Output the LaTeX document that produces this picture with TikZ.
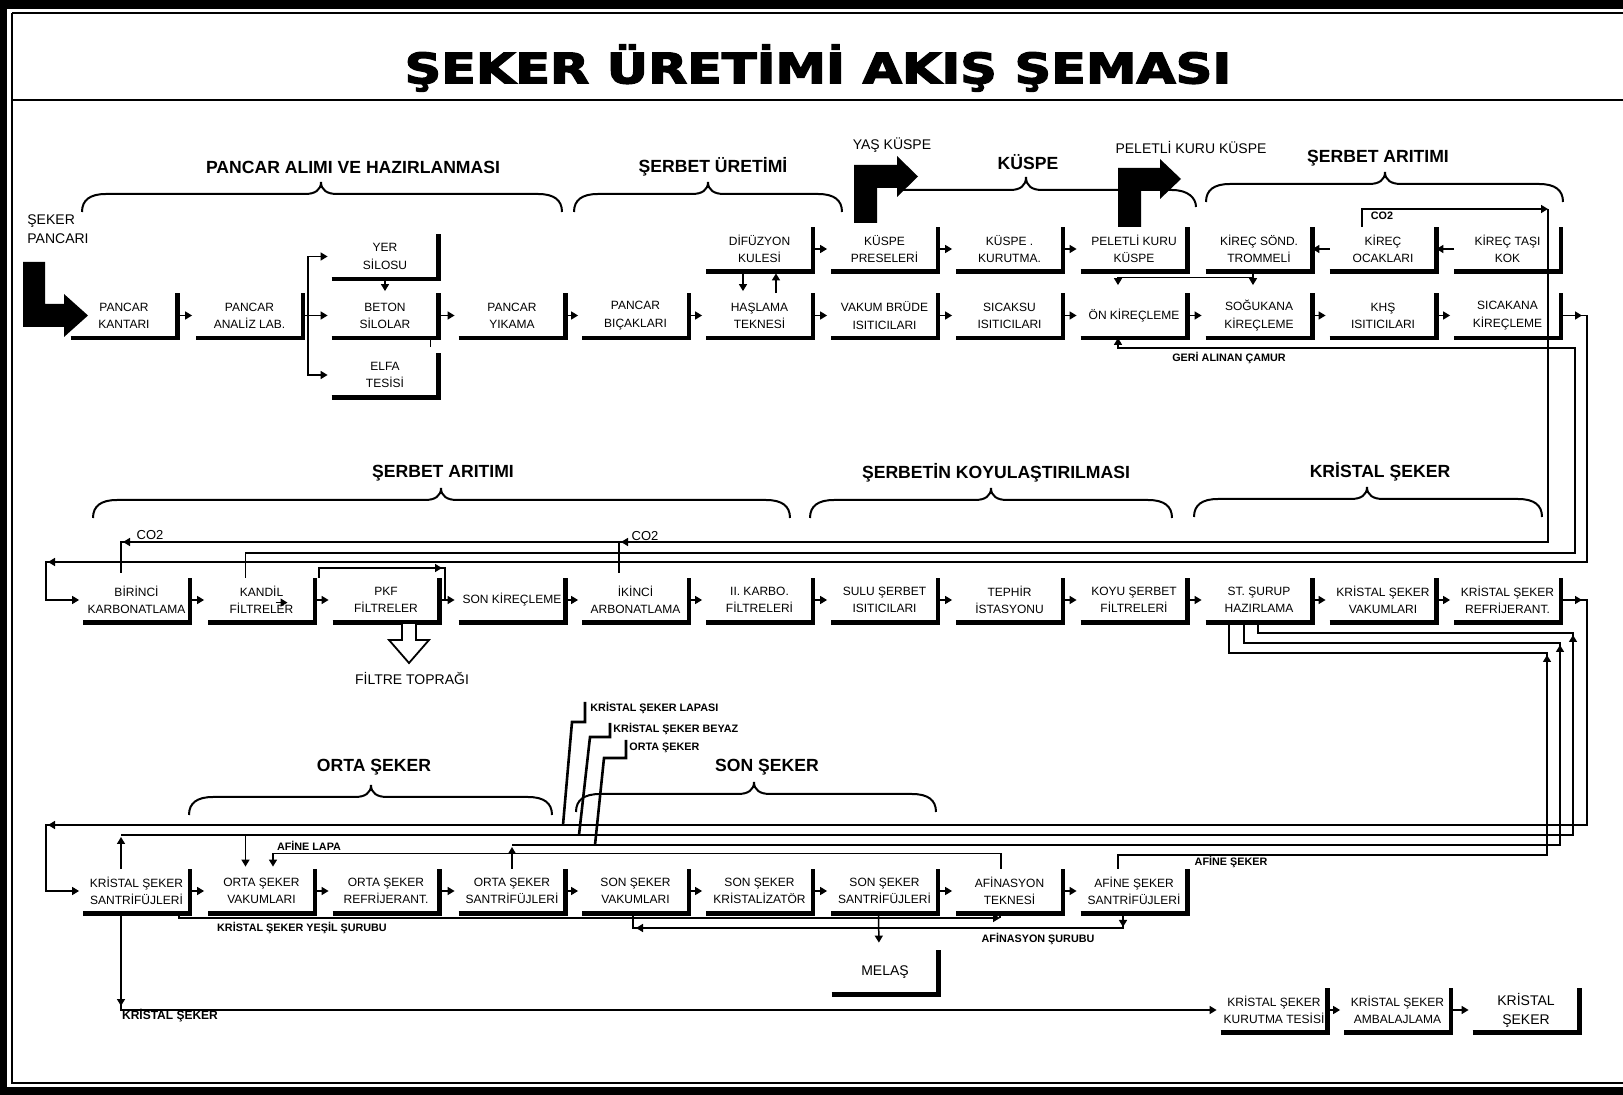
\documentclass[tikz,border=0pt]{standalone}
\usepackage{fontspec}
\setmainfont{Liberation Sans}
\newfontfamily\titlefont{DejaVu Sans}[BoldFeatures={FakeBold=3}]
\usetikzlibrary{arrows.meta}

\tikzset{
  flow/.style={line width=0.75pt},
  flowarr/.style={flow, -{Triangle[length=3.5pt,width=4pt]}, shorten >=2pt},
  headarr/.style={flow, -{Triangle[length=3.5pt,width=4pt]}},
  barline/.style={line width=2.2pt},
  bracestyle/.style={line width=1pt},
  leader/.style={line width=1.3pt},
  procbox/.style={minimum width=53pt, minimum height=22pt, inner sep=0pt, align=center,
    font=\fontsize{6}{8.6}\selectfont},
  hdr/.style={font=\fontsize{8.8}{10}\selectfont\bfseries, inner sep=0pt},
  tag/.style={font=\fontsize{5.4}{6.5}\selectfont\bfseries, inner sep=0pt},
  note/.style={font=\fontsize{7}{9.5}\selectfont, inner sep=0pt, align=left},
}

% curly brace: left x, right x, y of the ends, x of the tip
\newcommand\brc[4]{%
  \draw[bracestyle] (#1,#3) .. controls (#1,{#3-12}) and ({#1+8},{#3-18}) .. ({#1+24},{#3-18})
    -- ({#4-16},{#3-18}) .. controls ({#4-6},{#3-18}) and (#4,{#3-22}) .. (#4,{#3-30})
    .. controls (#4,{#3-22}) and ({#4+6},{#3-18}) .. ({#4+16},{#3-18})
    -- ({#2-24},{#3-18}) .. controls ({#2-8},{#3-18}) and (#2,{#3-12}) .. (#2,#3);}

\begin{document}
\begin{tikzpicture}[x=0.5pt,y=-0.5pt]
\useasboundingbox (0,0) rectangle (1623,1095);

%Frame
\fill (0,0) rectangle (1623,9);
\fill (0,0) rectangle (7,1095);
\fill (0,1087) rectangle (1623,1095);
\draw[line width=0.8pt] (12,13) -- (1623,13);
\draw[line width=0.8pt] (12,13) -- (12,1083) -- (1623,1083);
\draw[line width=1.2pt] (12,100) -- (1623,100);

% Title
\node[font=\titlefont\bfseries\fontsize{21}{24}\selectfont] (title) at (818,68) {\scalebox{1.21}[1]{ŞEKER ÜRETİMİ AKIŞ ŞEMASI}};

% Section headers
\node[hdr] (h1) at (353,167) {PANCAR ALIMI VE HAZIRLANMASI};
\node[hdr] (h2) at (713,167) {ŞERBET ÜRETİMİ};
\node[hdr] (h3) at (1028,162) {KÜSPE};
\node[hdr] (h4) at (1378,158) {ŞERBET ARITIMI};
\node[hdr] (h5) at (443,473) {ŞERBET ARITIMI};
\node[hdr] (h6) at (996,473) {ŞERBETİN KOYULAŞTIRILMASI};
\node[hdr] (h7) at (1380,472) {KRİSTAL ŞEKER};
\node[hdr] (h8) at (374,767) {ORTA ŞEKER};
\node[hdr] (h9) at (767,767) {SON ŞEKER};

% Braces
\brc{82}{562}{212}{321}
\brc{574}{842}{212}{708}
\draw[bracestyle] (900,190) -- (1010,190) .. controls (1020,190) and (1026,186) .. (1026,177)
  .. controls (1026,186) and (1032,190) .. (1042,190) -- (1172,190)
  .. controls (1188,190) and (1196,198) .. (1196,207);
\brc{1206}{1563}{202}{1385}
\brc{93}{790}{518}{441}
\brc{810}{1172}{518}{991}
\brc{1194}{1542}{517}{1367}
\brc{189}{552}{815}{371}
\brc{576}{936}{812}{754}

% Text Node
\node[note, anchor=north west] (pancari) at (27,214) {ŞEKER\\PANCARI};
\node[note] (yaskuspe) at (892,145) {YAŞ KÜSPE};
\node[note] (peletkuspe) at (1191,148) {PELETLİ KURU KÜSPE};

% Upper row
\node[procbox] (difuzyon) at (759.5,249) {DİFÜZYON\\KULESİ};
\node[procbox] (kuspepres) at (884.5,249) {KÜSPE\\PRESELERİ};
\node[procbox] (kurutma) at (1009.5,249) {KÜSPE .\\KURUTMA.};
\node[procbox] (peletli) at (1134,249) {PELETLİ KURU\\KÜSPE};
\node[procbox] (trommeli) at (1259,249) {KİREÇ SÖND.\\TROMMELİ};
\node[procbox] (ocak) at (1383,249) {KİREÇ\\OCAKLARI};
\node[procbox] (kirectasi) at (1507.5,249) {KİREÇ TAŞI\\KOK};
\node[procbox] (yer) at (385,256.5) {YER\\SİLOSU};
\node[procbox] (kantar) at (124,315.5) {PANCAR\\KANTARI};
\node[procbox] (analiz) at (249.5,315.5) {PANCAR\\ANALİZ LAB.};
\node[procbox] (beton) at (385,315.5) {BETON\\SİLOLAR};
\node[procbox] (yikama) at (512,315.5) {PANCAR\\YIKAMA};
\node[procbox] (bicak) at (635.5,315.5) {PANCAR\\BIÇAKLARI};
\node[procbox] (haslama) at (759.5,315.5) {HAŞLAMA\\TEKNESİ};
\node[procbox] (vakumbrude) at (884.5,315.5) {VAKUM BRÜDE\\ISITICILARI};
\node[procbox] (sicaksu) at (1009.5,315.5) {SICAKSU\\ISITICILARI};
\node[procbox] (onkirec) at (1134,315.5) {ÖN KİREÇLEME};
\node[procbox] (sogukana) at (1259,315.5) {SOĞUKANA\\KİREÇLEME};
\node[procbox] (khs) at (1383,315.5) {KHŞ\\ISITICILARI};
\node[procbox] (sicakana) at (1507.5,315.5) {SICAKANA\\KİREÇLEME};
\node[procbox] (elfa) at (385,375) {ELFA\\TESİSİ};

% Middle row
\node[procbox] (birinci) at (136.5,600) {BİRİNCİ\\KARBONATLAMA};
\node[procbox] (kandil) at (261.5,600) {KANDİL\\FİLTRELER};
\node[procbox] (pkf) at (386,600) {PKF\\FİLTRELER};
\node[procbox] (sonkirec) at (512,600) {SON KİREÇLEME};
\node[procbox] (ikinci) at (635.5,600) {İKİNCİ\\ARBONATLAMA};
\node[procbox] (karbofilt) at (759.5,600) {II. KARBO.\\FİLTRELERİ};
\node[procbox] (sulu) at (884.5,600) {SULU ŞERBET\\ISITICILARI};
\node[procbox] (tephir) at (1009.5,600) {TEPHİR\\İSTASYONU};
\node[procbox] (koyu) at (1134,600) {KOYU ŞERBET\\FİLTRELERİ};
\node[procbox] (stsurup) at (1259,600) {ST. ŞURUP\\HAZIRLAMA};
\node[procbox] (ksvakum) at (1383,600) {KRİSTAL ŞEKER\\VAKUMLARI};
\node[procbox] (ksrefrij) at (1507.5,600) {KRİSTAL ŞEKER\\REFRİJERANT.};

% Lower row
\node[procbox] (ksant) at (136.5,891) {KRİSTAL ŞEKER\\SANTRİFÜJLERİ};
\node[procbox] (ortavak) at (261.5,891) {ORTA ŞEKER\\VAKUMLARI};
\node[procbox] (ortaref) at (386,891) {ORTA ŞEKER\\REFRİJERANT.};
\node[procbox] (ortasant) at (512,891) {ORTA ŞEKER\\SANTRİFÜJLERİ};
\node[procbox] (sonvak) at (635.5,891) {SON ŞEKER\\VAKUMLARI};
\node[procbox] (sonkris) at (759.5,891) {SON ŞEKER\\KRİSTALİZATÖR};
\node[procbox] (sonsant) at (884.5,891) {SON ŞEKER\\SANTRİFÜJLERİ};
\node[procbox] (afinasyon) at (1009.5,891) {AFİNASYON\\TEKNESİ};
\node[procbox] (afinesant) at (1134,891) {AFİNE ŞEKER\\SANTRİFÜJLERİ};
\node[procbox, font=\fontsize{7}{9}\selectfont] (melas) at (885,972) {MELAŞ};
\node[procbox] (kskurutma) at (1274,1010) {KRİSTAL ŞEKER\\KURUTMA TESİSİ};
\node[procbox] (ambalaj) at (1397.5,1010) {KRİSTAL ŞEKER\\AMBALAJLAMA};
\node[procbox, font=\fontsize{7}{9.5}\selectfont] (kristalseker) at (1526,1010) {KRİSTAL\\ŞEKER};

% box shadows
\foreach \b in {difuzyon,kuspepres,kurutma,peletli,trommeli,ocak,kirectasi,yer,kantar,analiz,beton,yikama,bicak,haslama,vakumbrude,sicaksu,onkirec,sogukana,khs,sicakana,elfa,birinci,kandil,pkf,sonkirec,ikinci,karbofilt,sulu,tephir,koyu,stsurup,ksvakum,ksrefrij,ksant,ortavak,ortaref,ortasant,sonvak,sonkris,sonsant,afinasyon,afinesant,melas,kskurutma,ambalaj,kristalseker}
  \draw[barline] (\b.south west) -- (\b.south east) -- (\b.north east);

% Big arrows
\fill (23,262) -- (45,262) -- (45,304) -- (64,304) -- (64,294) -- (88,315.5) -- (64,337) -- (64,327) -- (23,327) -- cycle;
\fill (854,223) -- (854,165) -- (897,165) -- (897,156) -- (918,176.5) -- (897,197) -- (897,188) -- (877,188) -- (877,223) -- cycle;
\fill (1118,227) -- (1118,168) -- (1160,168) -- (1160,159) -- (1181,179) -- (1160,199) -- (1160,190) -- (1141,190) -- (1141,227) -- cycle;

% Upper row connectors
\draw[flowarr] (kantar.east) -- (analiz.west);
\draw[flow] (analiz.east) -- ++(5,0) coordinate (fork);
\draw[flowarr] (fork) |- (yer.west);
\draw[flowarr] (fork) -- (beton.west);
\draw[flowarr] (fork) |- (elfa.west);
\draw[flowarr, shorten >=1pt] (yer.south) -- (beton.north);
\draw[flow] ([xshift=-4pt]beton.south east) -- ++(0,-4.5pt);
\foreach \a/\c in {beton/yikama,yikama/bicak,bicak/haslama,haslama/vakumbrude,vakumbrude/sicaksu,sicaksu/onkirec,onkirec/sogukana,sogukana/khs,khs/sicakana,difuzyon/kuspepres,kuspepres/kurutma,kurutma/peletli}
  \draw[flowarr] (\a.east) -- (\c.west);
\draw[flowarr, shorten >=0pt] (ocak.west) -- (trommeli.east);
\draw[flowarr, shorten >=0pt] (kirectasi.west) -- (ocak.east);
\draw[flowarr, shorten >=1pt] ([xshift=-8.25pt]difuzyon.south) -- ([xshift=-8.25pt]haslama.north);
\draw[flowarr, shorten >=1pt] ([xshift=8.25pt]haslama.north) -- ([xshift=8.25pt]difuzyon.south);
\draw[flow] ([xshift=-3pt]trommeli.south) -- ++(0,-3pt) coordinate (lime);
\draw[flowarr, shorten >=4pt] (lime) -| ([xshift=-8pt]onkirec.north);
\draw[flowarr, shorten >=4pt] (lime) -- (lime |- sogukana.north);

% CO2 line
\coordinate (co2r) at (1548,209);
\coordinate (co2d) at (1548,542);
\coordinate (co2l) at (121,542);
\coordinate (co2m) at (619,542);
\draw[flowarr, shorten >=0pt] ([xshift=-10.5pt]ocak.north) |- (co2r);
\draw[flow] (co2r) -- (co2d) -- (co2l) -- ([yshift=2.5pt]co2l |- birinci.north);
\draw[flow] (co2m) -- ([yshift=2.5pt]co2m |- ikinci.north);
\draw[headarr] ([xshift=5pt]co2l) -- ([xshift=1pt]co2l);
\draw[headarr] ([xshift=5pt]co2m) -- ([xshift=1pt]co2m);
\node[tag] (co2a) at (1382,216) {CO2};
\node[font=\fontsize{6.5}{8}\selectfont, inner sep=0pt] (co2b) at (150,535) {CO2};
\node[font=\fontsize{6.5}{8}\selectfont, inner sep=0pt] (co2c) at (645,536) {CO2};

% GERİ ALINAN ÇAMUR
\coordinate (mudB) at (1575,553);
\coordinate (mudC) at (1575,348);
\draw[flowarr, shorten >=0pt] ([xshift=-8pt]kandil.north) |- (mudB) -- (mudC) -| ([xshift=-8pt]onkirec.south);
\draw[headarr] ([shift={(7pt,-12.5pt)}]kandil.north) -- ([shift={(13pt,-12.5pt)}]kandil.north);
\node[tag] (camur) at (1229,358) {GERİ ALINAN ÇAMUR};

% loop to BİRİNCİ KARBONATLAMA
\coordinate (lp1) at (1587,315.5);
\coordinate (lp2) at (1587,562);
\coordinate (lp3) at (46,562);
\draw[flowarr] (sicakana.east) -- (lp1) -- (lp2) -- (lp3) |- (birinci.west);
\draw[headarr] (sicakana.east) -- ([xshift=-2.5pt]lp1);
\draw[headarr] ([xshift=5pt]lp3) -- ([xshift=1pt]lp3);

% Middle row connectors
\foreach \a/\c in {birinci/kandil,kandil/pkf,pkf/sonkirec,sonkirec/ikinci,ikinci/karbofilt,karbofilt/sulu,sulu/tephir,tephir/koyu,koyu/stsurup,stsurup/ksvakum,ksvakum/ksrefrij}
  \draw[flowarr] (\a.east) -- (\c.west);
\coordinate (pkb) at (445,568);
\draw[flow] ([xshift=2pt]kandil.north east) |- (pkb) -- (pkb |- sonkirec.west);
\draw[headarr] ([xshift=-6pt]pkb) -- ([xshift=-1.5pt]pkb);

% Filtre topragi
\draw[fill=white, line width=0.9pt] (402,623) -- (416,623) -- (416,640) -- (429,640) -- (409,663) -- (389,640) -- (402,640) -- cycle;
\node[note] (toprak) at (412,678) {FİLTRE TOPRAĞI};

% loop to KRİSTAL ŞEKER SANTRİFÜJLERİ
\coordinate (rf1) at (1587,600);
\coordinate (rf2) at (1587,825);
\coordinate (rf3) at (46,825);
\draw[flowarr] (ksrefrij.east) -- (rf1) -- (rf2) -- (rf3) |- (ksant.west);
\draw[headarr] (ksrefrij.east) -- ([xshift=-2.5pt]rf1);
\draw[headarr] ([xshift=5pt]rf3) -- ([xshift=1pt]rf3);

% returns to ST. SURUP
\coordinate (sr1) at (1573,633);
\coordinate (sr2) at (1560,643);
\coordinate (sr3) at (1547,653);
\coordinate (kt1) at (1573,835);
\coordinate (kt2) at (121,835);
\coordinate (os1) at (1560,845);
\coordinate (af1) at (1547,855);
\draw[flow] ([xshift=-0.5pt]stsurup.south) |- (sr1) -- (kt1) -- (kt2);
\draw[flow] ([xshift=-7.5pt]stsurup.south) |- (sr2) -- (os1) -- (os1 -| ortasant.north);
\draw[flow] ([xshift=-15pt]stsurup.south) |- (sr3) -- (af1) -| ([xshift=-8pt]afinesant.north);
\draw[headarr] ([yshift=-6pt]sr1) -- ([yshift=-1pt]sr1);
\draw[headarr] ([yshift=-6pt]sr2) -- ([yshift=-1pt]sr2);
\draw[headarr] ([yshift=-6pt]sr3) -- ([yshift=-1pt]sr3);
\draw[headarr] ([xshift=-7.75pt]ksant.north) -- ([yshift=-1pt]kt2);
\draw[flowarr, shorten >=1pt] ([xshift=-8pt]ortavak.north |- kt2) -- ([xshift=-8pt]ortavak.north);
\draw[headarr] (ortasant.north) -- ([yshift=-1pt]ortasant.north |- os1);
\node[tag] (afineseker) at (1231,862) {AFİNE ŞEKER};

% AFİNE LAPA
\draw[flowarr, shorten >=1pt] ([xshift=-4.25pt]afinasyon.north) -- ++(0,-15) -| ([xshift=5.75pt]ortavak.north);
\node[tag] (afinelapa) at (309,846) {AFİNE LAPA};

% leaders
\node[tag, anchor=west] (lapasi) at (590,708) {KRİSTAL ŞEKER LAPASI};
\node[tag, anchor=west] (beyaz) at (613,729) {KRİSTAL ŞEKER BEYAZ};
\node[tag, anchor=west] (ortalbl) at (629,748) {ORTA ŞEKER};
\draw[leader] ([shift={(-2.5pt,3pt)}]lapasi.west) -- ([shift={(-2.5pt,-7pt)}]lapasi.west) -- ++(-13,0) -- (563,825);
\draw[leader] ([shift={(-1.5pt,3pt)}]beyaz.west) -- ([shift={(-1.5pt,-4pt)}]beyaz.west) -- ++(-20,0) -- (579,835);
\draw[leader] ([shift={(-1.5pt,4pt)}]ortalbl.west) -- ([shift={(-1.5pt,-5pt)}]ortalbl.west) -- ++(-22,0) -- (595,845);

% Lower row connectors
\foreach \a/\c in {ksant/ortavak,ortavak/ortaref,ortaref/ortasant,ortasant/sonvak,sonvak/sonkris,sonkris/sonsant,sonsant/afinasyon,afinasyon/afinesant,kskurutma/ambalaj,ambalaj/kristalseker}
  \draw[flowarr] (\a.east) -- (\c.west);

% yesil surup
\coordinate (ys) at ([xshift=-4.75pt]afinasyon.south |- 0,918);
\draw[headarr] ([xshift=-5.5pt]ksant.south east) |- (ys);
\draw[flow] (ys) -- ([xshift=-4.75pt]afinasyon.south);
\node[tag] (yesil) at (302,928) {KRİSTAL ŞEKER YEŞİL ŞURUBU};

% afinasyon surubu
\coordinate (afr) at (1123,928);
\coordinate (afl) at (633,928);
\draw[flow] ([xshift=-5.5pt]afinesant.south) -- (afr) -- (afl) -- (afl |- sonvak.south);
\draw[headarr] ([yshift=4pt]afr) -- ([yshift=0.5pt]afr);
\draw[headarr] ([xshift=6pt]afl) -- ([xshift=1.5pt]afl);
\node[tag] (afsurup) at (1038,939) {AFİNASYON ŞURUBU};

% melas
\draw[flowarr, shorten >=3.5pt] ([xshift=-3pt]sonsant.south) -- ([xshift=-3pt]melas.north);

% kristal seker
\draw[flowarr] ([xshift=-7.75pt]ksant.south) |- (kskurutma.west);
\coordinate (kc) at ([xshift=-7.75pt]ksant.south |- kskurutma.west);
\draw[headarr] ([yshift=6pt]kc) -- ([yshift=2pt]kc);
\node[font=\fontsize{6}{7}\selectfont\bfseries, inner sep=0pt] (kslbl) at (170,1016) {KRİSTAL ŞEKER};

\end{tikzpicture}
\end{document}
